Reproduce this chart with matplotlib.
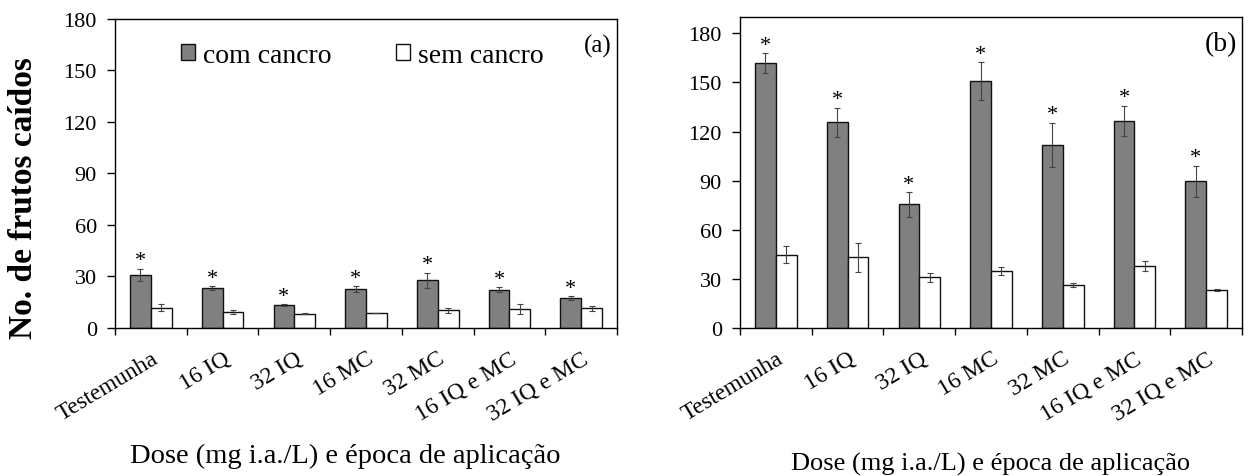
import matplotlib
matplotlib.use("Agg")
import matplotlib.pyplot as plt
import numpy as np
from matplotlib.ticker import FixedLocator

categories = ["Testemunha", "16 IQ", "32 IQ", "16 MC", "32 MC", "16 IQ e MC", "32 IQ e MC"]

# Panel (a)
a_com = [31, 23.3, 13.3, 22.7, 27.8, 22.2, 17.3]
a_com_err = [3.5, 1.0, 0.4, 1.5, 4.5, 1.4, 1.1]
a_sem = [11.8, 9.4, 8.2, 8.8, 10.2, 11.2, 11.4]
a_sem_err = [2.0, 1.2, 0.3, 0.0, 1.7, 3.0, 1.5]

# Panel (b)
b_com = [162, 125.6, 75.5, 150.7, 111.9, 126.4, 89.6]
b_com_err = [6.0, 9.0, 7.5, 11.7, 13.5, 9.4, 9.6]
b_sem = [44.8, 43.2, 30.9, 34.8, 26.2, 38.0, 23.3]
b_sem_err = [5.0, 8.7, 2.9, 2.5, 1.0, 3.0, 0.6]

yticks = [0, 30, 60, 90, 120, 150, 180]
legend_labels = ["com cancro", "sem cancro"]
xlabel = "Dose (mg i.a./L) e época de aplicação"
ylabel = "No. de frutos caídos"

plt.rcParams['font.family'] = ['Liberation Serif', 'DejaVu Serif']

fig = plt.figure(figsize=(12.49, 4.77), dpi=100)
axA = fig.add_axes([0.0921, 0.3103, 0.4019, 0.6478])
axB = fig.add_axes([0.5925, 0.3103, 0.4019, 0.6520])

DARK = "#808080"
w = 0.29

def draw(ax, com, com_err, sem, sem_err, ymax, tag, tagsize):
    x = np.arange(len(categories)) + 0.5
    ax.bar(x - w / 2, com, w, color=DARK, edgecolor="#111111", linewidth=1.0, label=legend_labels[0], zorder=2)
    ax.bar(x + w / 2, sem, w, color="white", edgecolor="#111111", linewidth=1.0, label=legend_labels[1], zorder=2)
    ax.errorbar(x - w / 2, com, yerr=com_err, fmt="none", ecolor="#444444", elinewidth=0.8, capsize=2.5, capthick=0.8, zorder=3)
    ax.errorbar(x + w / 2, sem, yerr=sem_err, fmt="none", ecolor="#444444", elinewidth=0.8, capsize=2.5, capthick=0.8, zorder=3)
    for xi, v, e in zip(x - w / 2, com, com_err):
        ax.annotate("*", (xi, v + e), xytext=(0, 2.5), textcoords="offset points",
                    ha="center", va="baseline", fontsize=16)
    ax.set_xlim(0, len(categories))
    ax.set_ylim(0, ymax)
    ax.set_yticks(yticks)
    ax.tick_params(axis="y", direction="out", length=6, width=1, labelsize=16, pad=7)
    ax.xaxis.set_major_locator(FixedLocator(x))
    ax.set_xticklabels(categories, rotation=31, ha="right", va="top", rotation_mode="anchor", fontsize=17)
    ax.xaxis.set_minor_locator(FixedLocator(np.arange(len(categories) + 1)))
    ax.tick_params(axis="x", which="major", length=0, pad=14)
    ax.tick_params(axis="x", which="minor", direction="out", length=5, width=1)
    for s in ax.spines.values():
        s.set_linewidth(1.0)
    ax.text(0.99, 0.913, tag, transform=ax.transAxes, ha="right", va="center", fontsize=tagsize)

draw(axA, a_com, a_com_err, a_sem, a_sem_err, 180, "(a)", 18)
draw(axB, b_com, b_com_err, b_sem, b_sem_err, 190, "(b)", 20)

axA.set_ylabel(ylabel, fontsize=24, fontweight="bold")
axA.yaxis.set_label_coords(-0.182, 0.424)
axA.yaxis.label.set_va("center")

axA.set_xlabel(xlabel, fontsize=20.5)
axA.xaxis.set_label_coords(0.458, -0.411)
axA.xaxis.label.set_va("center")

axB.set_xlabel(xlabel, fontsize=19)
axB.xaxis.set_label_coords(0.5, -0.434)
axB.xaxis.label.set_va("center")

axA.legend(loc="center", bbox_to_anchor=(0.493, 0.883), ncol=2, frameon=False, fontsize=20,
           handlelength=0.5, handleheight=0.5, handletextpad=0.3, columnspacing=2.3,
           borderpad=0, borderaxespad=0)

fig.savefig("out.png", dpi=100)
